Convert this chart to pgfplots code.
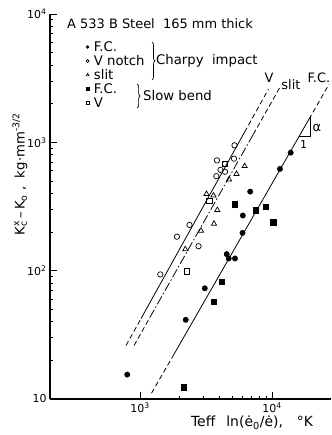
\documentclass[border=0pt]{standalone}
\usepackage{pgfplots}
\pgfplotsset{compat=1.18}
\usepackage{fontspec}
\setmainfont{DejaVu Sans}
\usetikzlibrary{decorations.pathreplacing}
\begin{document}
\begin{tikzpicture}[x=1bp,y=1bp]
\begin{axis}[
  at={(50bp,36bp)}, anchor=south west,
  scale only axis, width=281bp, height=385bp,
  xmode=log, ymode=log,
  xmin=208, xmax=28000, ymin=10, ymax=10000,
  axis x line*=bottom, axis y line*=left,
  axis line style={-, line width=1.1pt},
  tick align=inside,
  major tick length=7bp, minor tick length=3.5bp,
  every tick/.style={black, line width=0.8pt},
  xtick={1000,10000}, xticklabels={10\textsuperscript{3},10\textsuperscript{4}},
  ytick={10,100,1000,10000}, yticklabels={10,10\textsuperscript{2},10\textsuperscript{3},10\textsuperscript{4}},
  ticklabel style={font=\fontsize{11}{12}\selectfont},
  xlabel={Teff\hspace{11bp}ln(ė\textsubscript{0}/ė),\hspace{14bp}°K},
  xlabel style={at={(axis description cs:0.719,-0.062)}, anchor=center, font=\fontsize{14}{16}\selectfont},
  ylabel={K\rlap{\textsuperscript{x}}\textsubscript{c}\,–\,K\textsubscript{o}\ ,\ \ kg·mm\textsuperscript{-3/2}},
  ylabel style={at={(axis description cs:-0.107,0.584)}, anchor=center, rotate=0, font=\fontsize{13.3}{15}\selectfont},
  legend style={draw=none, fill=none, at={(axis description cs:0.128,0.929)}, anchor=north west,
    font=\fontsize{13.3}{14}\selectfont, row sep=2.9bp, inner sep=0pt,
    nodes={inner sep=0.8pt, text height=9.5bp, text depth=0bp}},
  legend cell align=left,
  legend image post style={scale=0.55},
  clip=false,
]
\addplot[only marks, mark=*, mark size=2.7bp, black] coordinates {
 (13860,831) (11500,621) (6837,413) (6010,269) (5979,197) (4537,134.5) (4698,124.5) (5243,124.5) (3096,72.9) (2219,41.4) (800,15.5)};
\addlegendentry{\hspace{4bp}F.C.}
\addplot[only marks, mark=o, mark size=2.7bp, black, line width=0.7pt] coordinates {
 (5200,948) (5155,746) (3830,723) (4405,679) (4070,610) (4405,590) (3785,545) (2371,227) (1906,184) (2774,155) (1425,93.5)};
\addlegendentry{\hspace{4bp}V notch}
\addplot[only marks, mark=triangle, mark size=3bp, black, line width=0.7pt] coordinates {
 (6210,653) (5383,567) (4723,514) (3190,396) (3605,385) (3852,297) (3636,232) (2898,205) (2204,147)};
\addlegendentry{\hspace{4bp}slit}
\addplot[only marks, mark=square*, mark size=2.7bp, black] coordinates {
 (5217,329) (7540,295) (8946,315) (10210,239) (4166,82.4) (3605,57.3) (2154,12.4)};
\addlegendentry{\hspace{4bp}F.C.}
\addplot[only marks, mark=square, mark size=2.7bp, black, line width=0.7pt] coordinates {
 (4383,679) (3350,349) (2270,99)};
\addlegendentry{\hspace{4bp}V}
% V line
\addplot[black, line width=0.8pt, dash pattern=on 5bp off 3bp, forget plot] coordinates {(783,26.1) (1018,42.3)};
\addplot[black, line width=0.8pt, forget plot] coordinates {(1018,42.3) (6194,1200)};
\addplot[black, line width=0.8pt, dash pattern=on 5bp off 3bp, forget plot] coordinates {(6194,1200) (9398,2594)};
% slit line
\addplot[black, line width=0.8pt, dash pattern=on 5bp off 3bp, forget plot] coordinates {(901,26.1) (1185,43.0)};
\addplot[black, line width=0.8pt, dash pattern=on 9bp off 2.5bp on 1.5bp off 2.5bp, forget plot] coordinates {(1185,43.0) (7223,1155)};
\addplot[black, line width=0.8pt, dash pattern=on 5bp off 3bp, forget plot] coordinates {(7223,1155) (11497,2691)};
% F.C. line
\addplot[black, line width=0.8pt, dash pattern=on 5bp off 3bp, forget plot] coordinates {(1222,11.1) (1767,21.4)};
\addplot[black, line width=0.8pt, forget plot] coordinates {(1767,21.4) (19060,1514)};
\addplot[black, line width=0.8pt, dash pattern=on 5bp off 3bp, forget plot] coordinates {(19060,1514) (27040,2838)};
% slope triangle
\addplot[black, line width=0.8pt, forget plot] coordinates {(16020,1109) (19410,1109) (19410,1567)};
\node[font=\fontsize{13}{14}\selectfont] at (axis cs:21930,1286) {α};
\node[font=\fontsize{11}{12}\selectfont] at (axis cs:17330,964) {1};
% line labels
\node[font=\fontsize{13}{14}\selectfont] at (axis cs:9485,3162) {V};
\node[font=\fontsize{13}{14}\selectfont] at (axis cs:13930,2838) {slit};
\node[font=\fontsize{13}{14}\selectfont, anchor=east, inner sep=0pt] at (axis cs:27730,3162) {F.C.};
% title
\node[font=\fontsize{13}{15}\selectfont, anchor=west, inner sep=0pt] at (axis description cs:0.0605,0.974) {A 533 B Steel\ \ 165 mm thick};
% braces
\draw[decorate, decoration={brace, amplitude=3bp}, line width=0.7pt] (axis description cs:0.363,0.927) -- (axis description cs:0.363,0.829);
\node[font=\fontsize{13.3}{15}\selectfont, anchor=west, inner sep=0pt] at (axis description cs:0.377,0.878) {Charpy\ \ impact};
\draw[decorate, decoration={brace, amplitude=3bp}, line width=0.7pt] (axis description cs:0.310,0.818) -- (axis description cs:0.310,0.756);
\node[font=\fontsize{13.3}{15}\selectfont, anchor=west, inner sep=0pt] at (axis description cs:0.331,0.787) {Slow bend};
\end{axis}
\pgfresetboundingbox
\path[use as bounding box] (0,0) rectangle (331,435);
\end{tikzpicture}
\end{document}
